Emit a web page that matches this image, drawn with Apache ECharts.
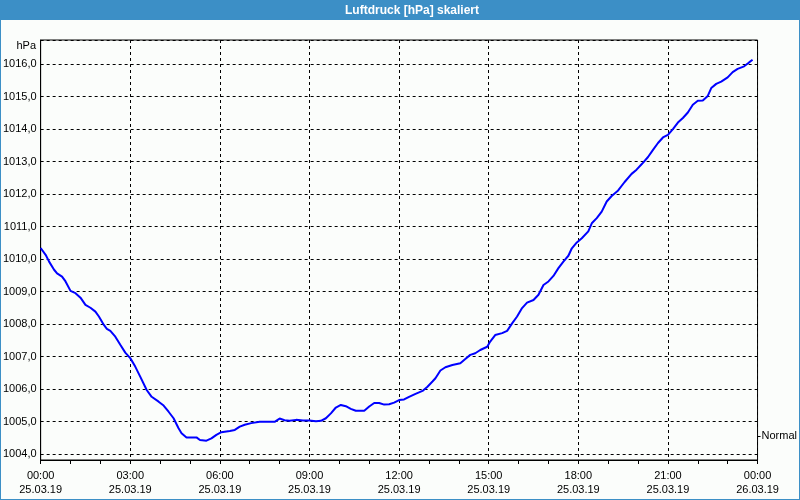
<!DOCTYPE html>
<html><head><meta charset="utf-8">
<script src="https://cdn.jsdelivr.net/npm/echarts@6/dist/echarts.min.js"></script>
<style>
html,body{margin:0;padding:0;background:#fff;}
#c{width:800px;height:500px;background:#fbfdfb;box-shadow:inset 0 0 0 1px #3c8fc6;}
</style></head><body><div id="c"></div>
<script>
const titleText = 'Luftdruck [hPa] skaliert';
const unitLabel = 'hPa';
const dateLabels = ['25.03.19', '26.03.19'];
const normalText = 'Normal';
const normalLevel = [1004.55];
const yRange = [1003.815, 1016.74];
const xRange = [0, 1440];
// minutes since 25.03.19 00:00
const minutes = [0,10,17,27,33,43,50,60,70,80,90,100,110,117,127,133,140,150,160,170,
  180,190,200,213,223,237,247,257,267,277,283,293,313,320,333,343,353,363,380,390,
  400,410,423,440,470,480,490,500,513,527,540,553,563,573,583,593,603,613,623,633,
  650,660,670,680,690,700,710,720,730,740,753,767,777,787,793,803,813,827,843,853,
  863,873,883,897,903,913,927,937,947,957,967,977,990,1000,1010,1020,1030,1040,1050,1060,
  1067,1077,1087,1100,1107,1117,1127,1137,1147,1160,1173,1187,1197,1208,1220,1230,1240,1250,1260,1270,
  1280,1290,1300,1310,1320,1330,1340,1347,1357,1367,1380,1390,1400,1413,1423,1430];
const pressure = [1010.34,1010.13,1009.92,1009.67,1009.56,1009.46,1009.31,1009.02,1008.95,1008.81,
  1008.59,1008.50,1008.38,1008.23,1007.97,1007.85,1007.79,1007.61,1007.36,1007.12,
  1006.95,1006.69,1006.38,1005.97,1005.76,1005.61,1005.49,1005.30,1005.10,1004.79,
  1004.64,1004.51,1004.51,1004.43,1004.41,1004.48,1004.59,1004.67,1004.71,1004.74,
  1004.84,1004.90,1004.95,1004.99,1004.99,1005.09,1005.04,1005.02,1005.05,1005.03,
  1005.03,1005.01,1005.02,1005.10,1005.25,1005.43,1005.51,1005.47,1005.39,1005.33,
  1005.33,1005.46,1005.57,1005.57,1005.52,1005.53,1005.58,1005.66,1005.68,1005.76,
  1005.85,1005.94,1006.07,1006.23,1006.33,1006.57,1006.67,1006.74,1006.79,1006.92,
  1007.05,1007.10,1007.20,1007.30,1007.46,1007.66,1007.72,1007.79,1008.02,1008.23,
  1008.49,1008.66,1008.74,1008.90,1009.20,1009.31,1009.48,1009.72,1009.92,1010.10,
  1010.33,1010.51,1010.64,1010.85,1011.10,1011.26,1011.46,1011.77,1011.94,1012.11,
  1012.37,1012.62,1012.75,1012.93,1013.14,1013.36,1013.57,1013.74,1013.82,1014.00,
  1014.20,1014.34,1014.51,1014.75,1014.87,1014.88,1015.02,1015.26,1015.39,1015.46,
  1015.59,1015.75,1015.85,1015.93,1016.05,1016.13];

const seriesData = minutes.map((m, i) => [m, pressure[i]]);
const FONT = '"Liberation Sans", Arial, sans-serif';
const dash = [3, 3];

const chart = echarts.init(document.getElementById('c'), null, {renderer: 'canvas'});
chart.setOption({
  animation: false,
  backgroundColor: 'transparent',
  textStyle: {fontFamily: FONT},
  graphic: [
    {type: 'rect', shape: {x: 0, y: 0, width: 800, height: 20}, style: {fill: '#3c8fc6'}, z: 0},
    {type: 'text', x: 412, y: 10.5, style: {text: titleText, fill: '#ffffff', font: 'bold 12px ' + FONT, align: 'center', verticalAlign: 'middle'}, z: 1},
    {type: 'text', x: 36, y: 46, style: {text: unitLabel, fill: '#000000', font: '11px ' + FONT, align: 'right', verticalAlign: 'middle'}, z: 1}
  ],
  grid: {left: 40, right: 40, top: 40, bottom: 40, show: true, borderColor: '#000', borderWidth: 1, backgroundColor: 'transparent'},
  xAxis: {
    type: 'value', min: xRange[0], max: xRange[1], interval: 180,
    axisLine: {show: true, lineStyle: {color: '#000', width: 1}},
    axisTick: {show: true, length: 4, lineStyle: {color: '#000'}},
    minorTick: {show: true, splitNumber: 3, length: 4, lineStyle: {color: '#000'}},
    splitLine: {show: true, lineStyle: {color: '#000', type: dash, width: 1}},
    axisLabel: {
      color: '#000', fontSize: 11, fontFamily: FONT, margin: 9, lineHeight: 14,
      formatter: v => {
        const h = Math.floor(v / 60) % 24, mm = v % 60;
        const t = String(h).padStart(2, '0') + ':' + String(mm).padStart(2, '0');
        return t + '\n' + (v >= 1440 ? dateLabels[1] : dateLabels[0]);
      }
    }
  },
  yAxis: [{
    type: 'value', min: yRange[0], max: yRange[1], splitNumber: 12,
    axisLine: {show: true, lineStyle: {color: '#000'}},
    axisTick: {show: false},
    splitLine: {show: true, lineStyle: {color: '#000', type: dash, width: 1}},
    axisLabel: {
      color: '#000', fontSize: 11, fontFamily: FONT, margin: 4,
      showMinLabel: false, showMaxLabel: false,
      formatter: v => v.toFixed(1).replace('.', ',')
    }
  }, {
    type: 'value', position: 'right', min: yRange[0], max: yRange[1],
    axisLine: {show: false},
    splitLine: {show: false},
    axisTick: {show: true, length: 3, customValues: normalLevel, lineStyle: {color: '#000'}},
    axisLabel: {color: '#000', fontSize: 11, fontFamily: FONT, margin: 4, customValues: normalLevel, formatter: () => normalText}
  }],
  series: [{
    type: 'line', data: seriesData, yAxisIndex: 0, showSymbol: false, smooth: false,
    lineStyle: {color: '#0000ff', width: 2}, silent: true
  }]
});
</script></body></html>
